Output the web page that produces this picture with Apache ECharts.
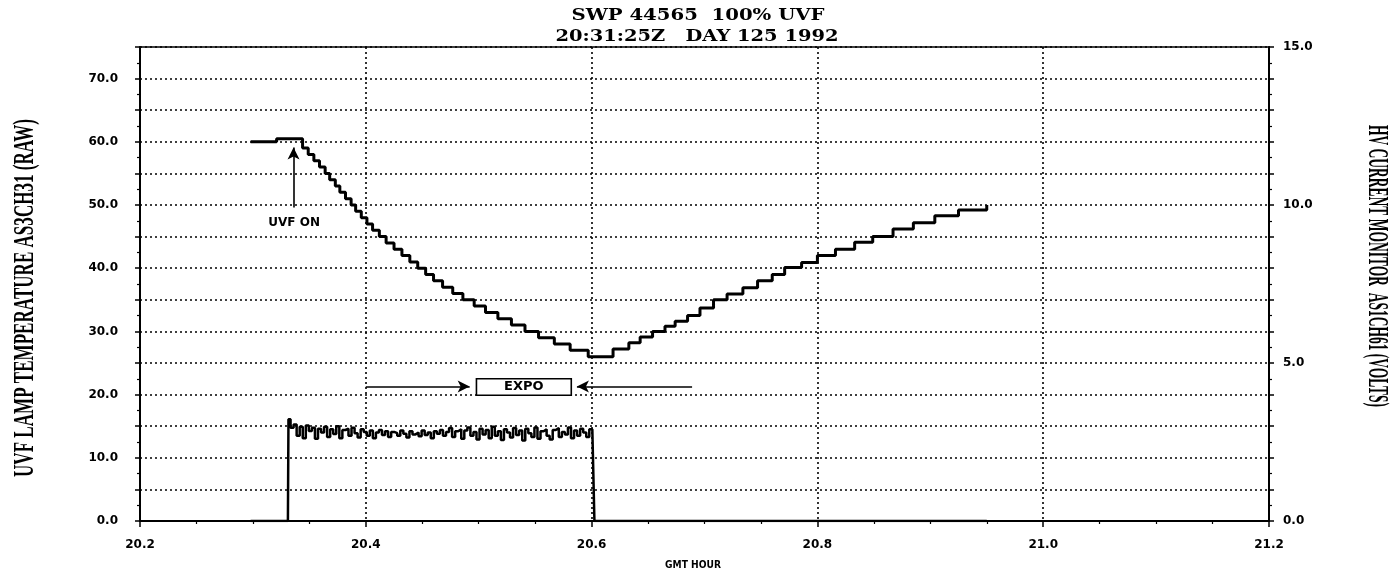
<!DOCTYPE html>
<html>
<head>
<meta charset="utf-8">
<script src="https://cdn.jsdelivr.net/npm/echarts@6/dist/echarts.min.js"></script>
<style>
  html, body { margin: 0; padding: 0; background: #fff; }
  #chart { width: 1400px; height: 576px; }
</style>
</head>
<body>
<div id="chart"></div>
<script>
// Lamp temperature (raw counts), stepped: each value holds from its hour until the next one.
const tempHours = [
  20.298, 20.321,
  20.344, 20.349, 20.354, 20.359, 20.364, 20.368, 20.373, 20.377, 20.382, 20.387,
  20.391, 20.396, 20.401, 20.406, 20.412, 20.418, 20.425, 20.432, 20.439, 20.446,
  20.453, 20.460, 20.468, 20.477, 20.486, 20.496, 20.506, 20.517, 20.529, 20.541,
  20.553, 20.567, 20.581, 20.597,
  20.619, 20.633, 20.643, 20.654, 20.665, 20.674, 20.685, 20.696, 20.708, 20.720,
  20.734, 20.747, 20.760, 20.771, 20.786, 20.800, 20.816, 20.833, 20.849, 20.867,
  20.885, 20.904, 20.925, 20.950
];
const tempValues = [
  60.0, 60.5,
  59, 58, 57, 56, 55, 54, 53, 52, 51, 50,
  49, 48, 47, 46, 45, 44, 43, 42, 41, 40,
  39, 38, 37, 36, 35, 34, 33, 32, 31, 30,
  29, 28, 27, 26,
  27.2, 28.2, 29.1, 30.0, 30.8, 31.6, 32.5, 33.7, 35.0, 35.9,
  36.9, 38.0, 39.0, 40.1, 40.9, 42.0, 43.0, 44.1, 45.0, 46.2,
  47.2, 48.3, 49.2, 50.0
];

// HV current monitor (volts): zero while off, sampled readings while the lamp runs.
const hvOnHour = 20.331;
const hvOffHour = 20.603;
const hvSampleStep = 0.0027;
const hvValues = [
  3.22, 2.95, 3.05, 2.70, 2.98, 2.62, 3.02, 2.85, 2.95, 2.60, 2.92, 2.80, 2.98, 2.66, 2.90, 2.75, 3.00, 2.62, 2.88, 2.92, 2.70, 2.95, 2.78, 2.64, 2.90,
  2.82, 2.70, 2.86, 2.62, 2.80, 2.88, 2.72, 2.84, 2.66, 2.82, 2.78, 2.70, 2.86, 2.76, 2.64, 2.84, 2.74, 2.80, 2.68, 2.86, 2.72, 2.80, 2.62, 2.84, 2.76,
  2.88, 2.70, 2.82, 2.94, 2.66, 2.84, 2.90, 2.60, 2.86, 2.96, 2.70, 2.82, 2.58, 2.92, 2.74, 2.88, 2.62, 2.98, 2.70, 2.84, 2.56, 2.90, 2.80, 2.64, 2.94,
  2.72, 2.86, 2.55, 2.92, 2.78, 2.66, 2.96, 2.60, 2.84, 2.90, 2.70, 2.58, 2.88, 2.94, 2.66, 2.82, 2.74, 2.96, 2.62, 2.86, 2.70, 2.92, 2.80, 2.66, 2.90, 2.85
];

// Annotation anchors in data units (hour, temperature)
const uvfOnArrow = [[20.336, 49.6], [20.336, 59.1]];
const uvfOnLabel = [20.3365, 47.2];
const expoLeftArrow = [[20.400, 21.3], [20.492, 21.3]];
const expoRightArrow = [[20.689, 21.3], [20.587, 21.3]];
const expoBox = [[20.498, 22.5], [20.582, 19.9]];

const titleLines = ['SWP 44565  100% UVF', '20:31:25Z   DAY 125 1992'];
const leftAxisName = 'UVF LAMP TEMPERATURE AS3CH31 (RAW)';
const rightAxisName = 'HV CURRENT MONITOR  AS1CH61 (VOLTS)';
const xAxisName = 'GMT HOUR';

const tempData = tempHours.map((h, i) => [h, tempValues[i]]);
const hvData = [[tempHours[0], 0], [hvOnHour, 0]]
  .concat(hvValues.map((v, i) => [hvOnHour + 0.001 + i * hvSampleStep, v]))
  .concat([[hvOffHour, 0], [tempHours[tempHours.length - 1], 0]]);

const measureCtx = document.createElement('canvas').getContext('2d');
function textWidth(font, text) {
  measureCtx.font = font;
  return measureCtx.measureText(text).width;
}

const tickFont = { fontFamily: 'DejaVu Sans', fontWeight: 'bold', fontSize: 12, color: '#000' };
const dotted = { color: '#000', width: 1.6, type: [2, 3] };

// Stretched text helper: fits text to a given length along its baseline.
function fittedText(text, font, x, y, length, rotation) {
  const w = textWidth(font, text);
  return {
    type: 'text', x: x, y: y, rotation: rotation || 0,
    scaleX: length / w, scaleY: 1,
    style: { text: text, font: font, fill: '#000', textAlign: 'center', textVerticalAlign: 'middle' },
    z: 10
  };
}

const titleFont = 'bold 16px "DejaVu Serif"';
const nameFont = 'bold 30px "Liberation Serif"';

const option = {
  animation: false,
  backgroundColor: '#fff',
  grid: { left: 140, right: 131, top: 47, bottom: 55, show: true, borderColor: '#000', borderWidth: 1.5 },
  xAxis: {
    type: 'value', min: 20.2, max: 21.2, interval: 0.2,
    axisLine: { show: true, onZero: false, lineStyle: { color: '#000', width: 2 } },
    axisTick: { show: true, length: 6, lineStyle: { color: '#000', width: 1.5 } },
    minorTick: { show: true, splitNumber: 4, length: 3, lineStyle: { color: '#000', width: 1.2 } },
    axisLabel: Object.assign({ margin: 18, formatter: v => v.toFixed(1) }, tickFont),
    splitLine: { show: true, lineStyle: dotted }
  },
  yAxis: [
    {
      type: 'value', min: 0, max: 75, interval: 5, position: 'left',
      axisLine: { show: true, lineStyle: { color: '#000', width: 2 } },
      axisTick: { show: true, length: 5, lineStyle: { color: '#000', width: 1.5 } },
      minorTick: { show: true, splitNumber: 2, length: 3, lineStyle: { color: '#000', width: 1.2 } },
      axisLabel: Object.assign({ margin: 22, formatter: v => (v % 10 === 0 ? v.toFixed(1) : '') }, tickFont),
      splitLine: { show: true, lineStyle: dotted }
    },
    {
      type: 'value', min: 0, max: 15, interval: 1, position: 'right',
      axisLine: { show: true, lineStyle: { color: '#000', width: 2 } },
      axisTick: { show: true, length: 5, lineStyle: { color: '#000', width: 1.5 } },
      minorTick: { show: true, splitNumber: 2, length: 3, lineStyle: { color: '#000', width: 1.2 } },
      axisLabel: Object.assign({ margin: 14, formatter: v => (v % 5 === 0 ? v.toFixed(1) : '') }, tickFont),
      splitLine: { show: false }
    }
  ],
  series: [
    {
      name: 'UVF lamp temperature', type: 'line', yAxisIndex: 0, step: 'end',
      data: tempData, symbol: 'none', z: 4,
      lineStyle: { color: '#000', width: 3 },
      markLine: {
        silent: true, symbol: ['none', 'arrow'], symbolSize: [9, 12],
        lineStyle: { color: '#000', width: 1.6, type: 'solid' },
        label: { show: false },
        data: [
          [{ coord: uvfOnArrow[0] }, { coord: uvfOnArrow[1] }],
          [{ coord: expoLeftArrow[0] }, { coord: expoLeftArrow[1] }],
          [{ coord: expoRightArrow[0] }, { coord: expoRightArrow[1] }]
        ]
      },
      markArea: {
        silent: true,
        itemStyle: { color: '#fff', borderColor: '#000', borderWidth: 1.6 },
        label: { show: true, position: 'inside', color: '#000', fontFamily: 'DejaVu Sans', fontWeight: 'bold', fontSize: 13 },
        data: [[{ name: 'EXPO', coord: expoBox[0] }, { coord: expoBox[1] }]]
      },
      markPoint: {
        silent: true, symbol: 'circle', symbolSize: 1,
        itemStyle: { color: 'rgba(0,0,0,0)' },
        label: { show: true, position: 'inside', color: '#000', fontFamily: 'DejaVu Sans', fontWeight: 'bold', fontSize: 12, formatter: 'UVF ON' },
        data: [{ coord: uvfOnLabel }]
      }
    },
    {
      name: 'HV current monitor', type: 'line', yAxisIndex: 1, step: 'middle',
      data: hvData, symbol: 'none', z: 3,
      lineStyle: { color: '#000', width: 2.5 }
    }
  ],
  graphic: [
    fittedText(titleLines[0], titleFont, 698, 16, 253, 0),
    fittedText(titleLines[1], titleFont, 697, 37, 283, 0),
    fittedText(leftAxisName, nameFont, 25, 298, 358, Math.PI / 2),
    fittedText(rightAxisName, nameFont, 1377, 266, 282, -Math.PI / 2),
    fittedText(xAxisName, 'bold 10px "DejaVu Sans"', 693, 565, 56, 0)
  ]
};

const chart = echarts.init(document.getElementById('chart'), null, { renderer: 'canvas' });
chart.setOption(option);
</script>
</body>
</html>
